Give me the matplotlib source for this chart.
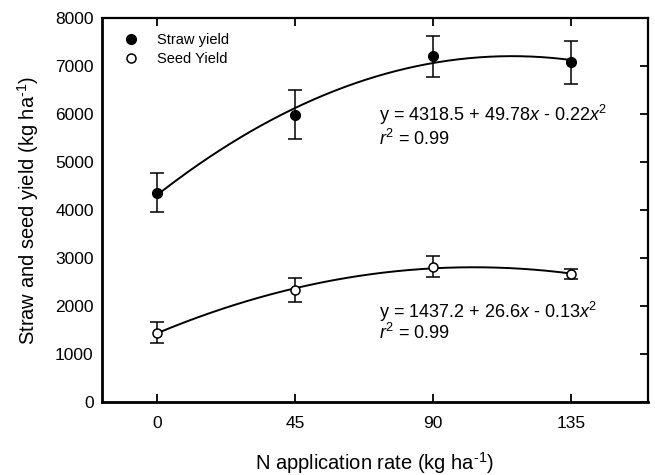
import numpy as np
import matplotlib
matplotlib.use("Agg")
import matplotlib.pyplot as plt

# N rates (kg/ha)
nRate = [0, 45, 90, 135]

strawYield = [4360, 5990, 7200, 7080]
strawErr = [410, 520, 430, 450]

seedYield = [1445, 2335, 2820, 2665]
seedErr = [225, 250, 225, 100]

strawEq = "y = 4318.5 + 49.78$x$ - 0.22$x^2$"
seedEq = "y = 1437.2 + 26.6$x$ - 0.13$x^2$"
r2Text = "$r^2$ = 0.99"

plt.rcParams.update({'font.family': 'Liberation Sans',
                     'mathtext.fontset': 'custom',
                     'mathtext.rm': 'Liberation Sans',
                     'mathtext.it': 'Liberation Sans:italic',
                     'font.size': 12.5})

fig = plt.figure(figsize=(6.55, 4.75), dpi=100)
ax = fig.add_axes((0.1557, 0.1537, 0.8333, 0.8083))

ax.set_xlim(-18, 160)
ax.set_ylim(0, 8000)
ax.set_xticks(nRate)
ax.set_yticks(np.arange(0, 8001, 1000))

# quadratic fits through the means
xs = np.linspace(0, 135, 200)
for yv in (strawYield, seedYield):
    c = np.polyfit(nRate, yv, 2)
    ax.plot(xs, np.polyval(c, xs), 'k', lw=1.4, zorder=2)

ax.errorbar(nRate, strawYield, yerr=strawErr, fmt='none', ecolor='k',
            elinewidth=1.1, capsize=5, capthick=1.1, zorder=3)
ax.errorbar(nRate, seedYield, yerr=seedErr, fmt='none', ecolor='k',
            elinewidth=1.1, capsize=5, capthick=1.1, zorder=3)
ax.plot(nRate, strawYield, 'o', color='k', ms=7, ls='none', zorder=4, label='Straw yield')
ax.plot(nRate, seedYield, 'o', mfc='white', mec='k', mew=1.1, ms=6.5, ls='none',
        zorder=4, label='Seed Yield')

ax.text(72.5, 5980, strawEq, fontsize=13, va='center')
ax.text(72.5, 5480, r2Text, fontsize=13, va='center')
ax.text(72.5, 1880, seedEq, fontsize=13, va='center')
ax.text(72.5, 1440, r2Text, fontsize=13, va='center')

ax.set_xlabel("N application rate (kg ha$^{\\text{-1}}$)", fontsize=14.5, labelpad=14)
ax.set_ylabel("Straw and seed yield (kg ha$^{\\text{-1}}$)", fontsize=14.5, labelpad=10)

ax.legend(loc='upper left', bbox_to_anchor=(0.01, 1.0), frameon=False,
          fontsize=10.5, handlelength=1.2, handletextpad=1.2,
          labelspacing=0.35, borderaxespad=0.6)

# frame: thin box all round, ticks pointing in
for side in ["top", "right", "left", "bottom"]:
    ax.spines[side].set_visible(True)
    ax.spines[side].set_color('black')
    ax.spines[side].set_linewidth(1.6)
ax.spines["left"].set_linewidth(2)
ax.spines["bottom"].set_linewidth(2)
ax.xaxis.set_ticks_position('both')
ax.yaxis.set_ticks_position('right')
ax.tick_params(direction='in', width=1.3, length=6, color='black')
ax.tick_params(axis='x', pad=10)
ax.tick_params(axis='y', labelleft=True, labelright=False, pad=6)

fig.savefig("out.png", dpi=100)
